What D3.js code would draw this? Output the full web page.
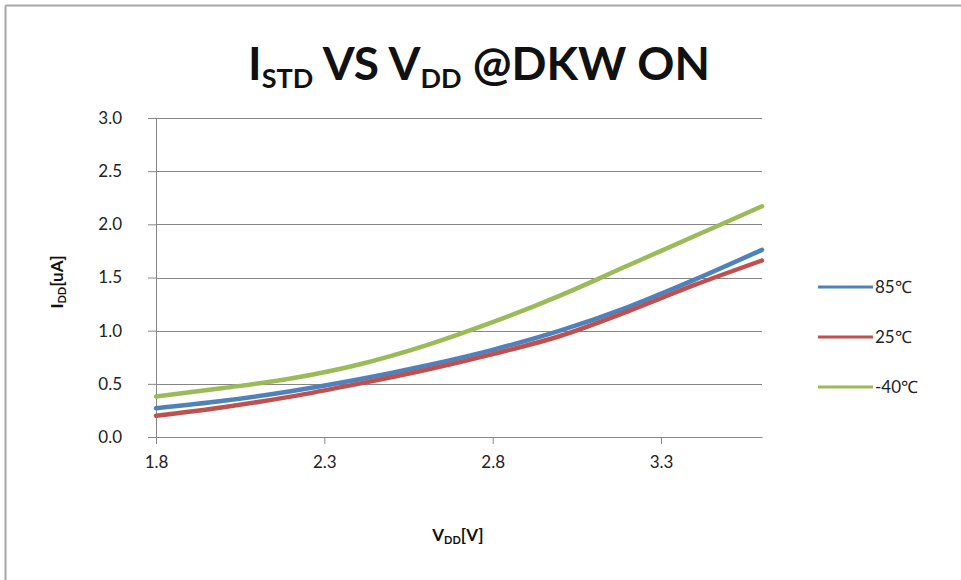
<!DOCTYPE html>
<html><head><meta charset="utf-8">
<script src="https://cdn.jsdelivr.net/npm/d3@7"></script>
<style>body{margin:0;background:#fff;} svg{display:block;}</style>
</head><body>
<svg id="c" width="961" height="580"></svg>
<script>
const voltages = [1.8, 2.0, 2.2, 2.4, 2.6, 2.8, 3.0, 3.2, 3.4, 3.6];
const seriesNames = ["85℃", "25℃", "-40℃"];
const i85  = [0.27, 0.34, 0.43, 0.54, 0.67, 0.82, 1.00, 1.22, 1.48, 1.76];
const i25  = [0.20, 0.28, 0.38, 0.50, 0.63, 0.78, 0.95, 1.18, 1.43, 1.66];
const iM40 = [0.38, 0.46, 0.55, 0.68, 0.86, 1.08, 1.33, 1.61, 1.89, 2.17];
const xTicks = [1.8, 2.3, 2.8, 3.3];
const yTicks = [0.0, 0.5, 1.0, 1.5, 2.0, 2.5, 3.0];
const colors = ["#4F81BD", "#C0504D", "#9BBB59"];

const series = [i85, i25, iM40].map((vals, k) => ({
  name: seriesNames[k], color: colors[k],
  pts: voltages.map((v, i) => ({x: v, y: vals[i]}))
}));

const svg = d3.select("#c");
const font = "Lato, 'Open Sans', sans-serif";
const x = d3.scaleLinear().domain([1.8, 3.6]).range([156, 762]);
const y = d3.scaleLinear().domain([0, 3]).range([437, 118]);

// chart border (top & left visible)
svg.append("line").attr("x1", 5.5).attr("x2", 961).attr("y1", 5.5).attr("y2", 5.5).attr("stroke", "#a6a6a6").attr("stroke-width", 2);
svg.append("line").attr("x1", 5.5).attr("x2", 5.5).attr("y1", 5.5).attr("y2", 580).attr("stroke", "#a6a6a6").attr("stroke-width", 2);

// gridlines
svg.append("g").selectAll("line").data(yTicks.slice(1)).join("line")
  .attr("x1", x(1.8)).attr("x2", x(3.6))
  .attr("y1", d => Math.round(y(d)) + 0.5).attr("y2", d => Math.round(y(d)) + 0.5)
  .attr("stroke", "#868686").attr("stroke-width", 1);

// y axis
const yAxis = svg.append("g").attr("transform", `translate(${x(1.8)},0)`)
  .call(d3.axisLeft(y).tickValues(yTicks).tickFormat(d3.format(".1f")).tickSize(8).tickPadding(26));
yAxis.select(".domain").attr("stroke", "#868686");
yAxis.selectAll(".tick line").attr("stroke", "#868686");
yAxis.selectAll("text").attr("font-family", font).attr("font-size", 17).attr("fill", "#222");

// x axis
const xAxis = svg.append("g").attr("transform", `translate(0,${y(0)})`)
  .call(d3.axisBottom(x).tickValues(xTicks).tickFormat(d3.format(".1f")).tickSize(7).tickSizeOuter(0).tickPadding(12));
xAxis.select(".domain").attr("stroke", "#868686");
xAxis.selectAll(".tick line").attr("stroke", "#868686");
xAxis.selectAll("text").attr("font-family", font).attr("font-size", 17).attr("fill", "#222");

// lines
const line = d3.line().x(d => x(d.x)).y(d => y(d.y)).curve(d3.curveMonotoneX);
svg.append("g").selectAll("path").data(series).join("path")
  .attr("d", d => line(d.pts)).attr("fill", "none")
  .attr("stroke", d => d.color).attr("stroke-width", 4.5).attr("stroke-linecap", "round");

// legend
const lg = svg.append("g").selectAll("g").data(series).join("g")
  .attr("transform", (d, i) => `translate(818,${287 + i * 50})`);
lg.append("line").attr("x1", 0).attr("x2", 55).attr("stroke", d => d.color).attr("stroke-width", 3);
lg.append("text").attr("x", 57).attr("y", 6).attr("font-family", font).attr("font-size", 17).attr("fill", "#222").text(d => d.name);

// title
const t = svg.append("text").attr("x", 479).attr("y", 80).attr("text-anchor", "middle")
  .attr("font-family", font).attr("font-weight", "bold").attr("font-size", 46).attr("fill", "#111");
t.append("tspan").text("I");
t.append("tspan").attr("font-size", 27).attr("dy", 8).text("STD");
t.append("tspan").attr("dy", -8).text(" VS V");
t.append("tspan").attr("font-size", 27).attr("dy", 8).text("DD");
t.append("tspan").attr("dy", -8).text(" @DKW ON");

// x axis title
const xt = svg.append("text").attr("x", 458).attr("y", 541).attr("text-anchor", "middle")
  .attr("font-family", font).attr("font-weight", "bold").attr("font-size", 17).attr("fill", "#111");
xt.append("tspan").text("V");
xt.append("tspan").attr("font-size", 11).attr("dy", 3).text("DD");
xt.append("tspan").attr("dy", -3).text("[V]");

// y axis title
const yt = svg.append("text").attr("transform", "translate(63,282) rotate(-90)").attr("text-anchor", "middle")
  .attr("font-family", font).attr("font-weight", "bold").attr("font-size", 17).attr("fill", "#111");
yt.append("tspan").text("I");
yt.append("tspan").attr("font-size", 11).attr("dy", 3).text("DD");
yt.append("tspan").attr("dy", -3).text("[uA]");
</script>
</body></html>
